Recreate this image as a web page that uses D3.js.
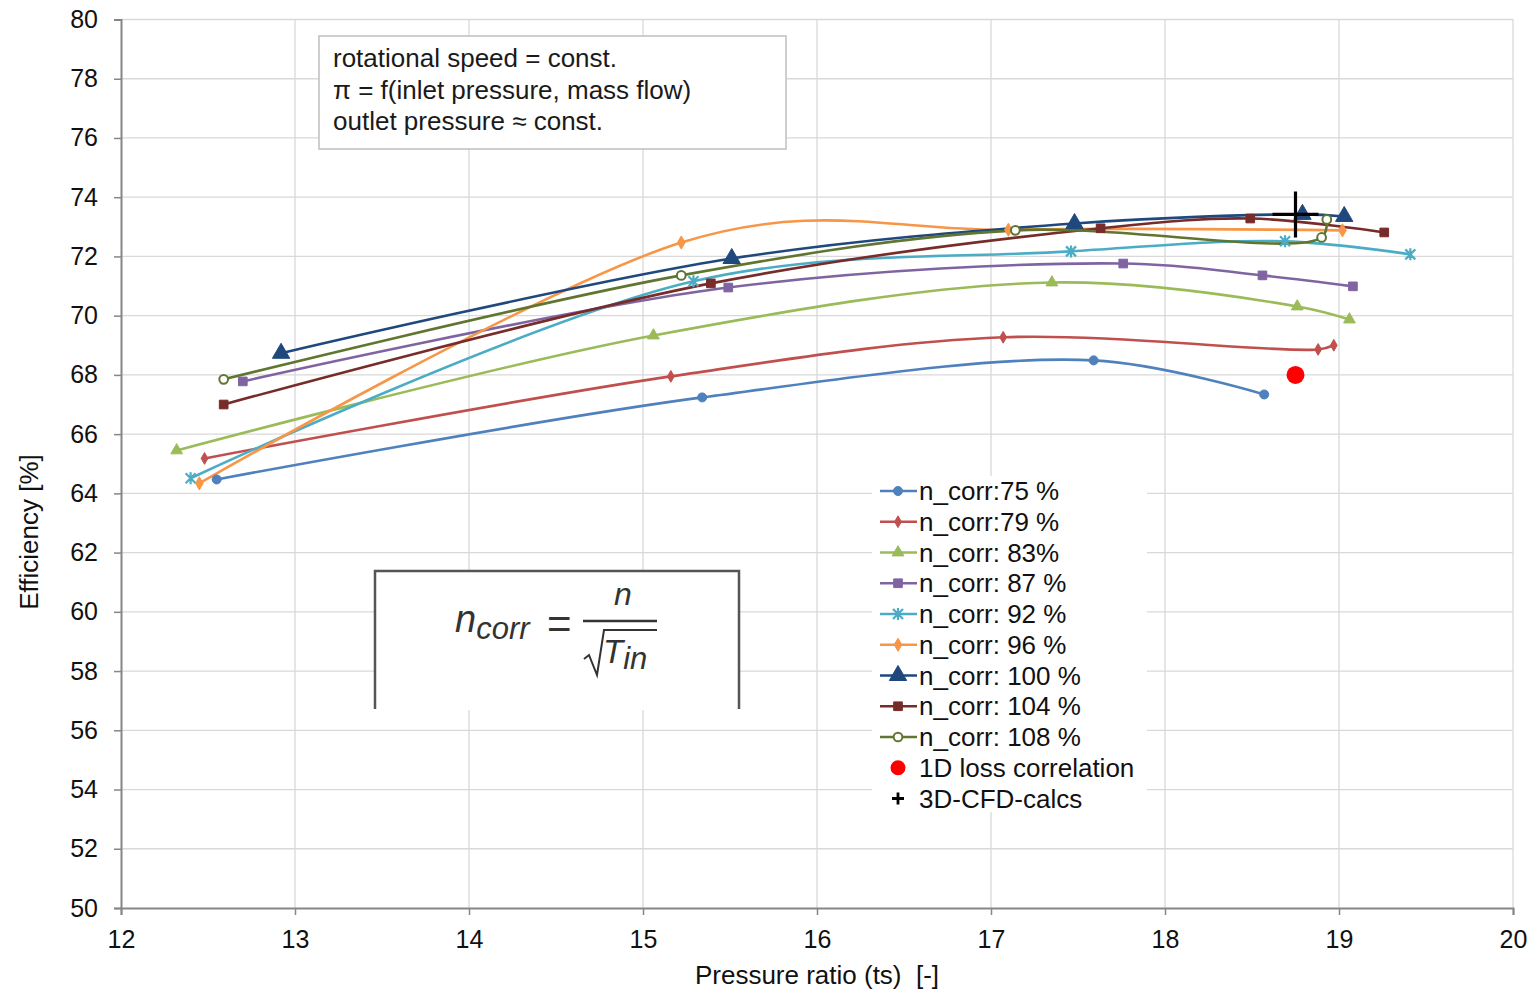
<!DOCTYPE html>
<html><head><meta charset="utf-8">
<script src="https://cdn.jsdelivr.net/npm/d3@7"></script>
<style>
body{margin:0;background:#fff;}
text{font-family:"Liberation Sans",Arial,sans-serif;}
</style></head>
<body><svg id="c" width="1531" height="993"></svg>
<script>
// ---------- data ----------
const seriesNames = ["n_corr:75 %","n_corr:79 %","n_corr: 83%","n_corr: 87 %","n_corr: 92 %","n_corr: 96 %","n_corr: 100 %","n_corr: 104 %","n_corr: 108 %"];
const seriesColors = ["#4F81BD","#C0504D","#9BBB59","#8064A2","#4BACC6","#F79646","#1F497D","#772C2A","#5F7530"];
const seriesMarkers = ["circle","diamond","triangle","square","star","diamondS","triangleL","square","circleOpen"];

const pr75  = [12.55, 15.34, 17.59, 18.57];
const eff75 = [64.47, 67.24, 68.49, 67.34];
const pr79  = [12.48, 15.16, 17.07, 18.88, 18.97];
const eff79 = [65.18, 67.95, 69.27, 68.86, 69.00];
const pr83  = [12.32, 15.06, 17.35, 18.76, 19.06];
const eff83 = [65.45, 69.33, 71.12, 70.31, 69.87];
const pr87  = [12.70, 15.49, 17.76, 18.56, 19.08];
const eff87 = [67.78, 70.95, 71.76, 71.36, 70.99];
const pr92  = [12.40, 15.29, 17.46, 18.69, 19.41];
const eff92 = [64.51, 71.16, 72.17, 72.51, 72.07];
const pr96  = [12.45, 15.22, 17.10, 19.02];
const eff96 = [64.34, 72.47, 72.90, 72.88];
const pr100  = [12.92, 15.51, 17.48, 18.79, 19.03];
const eff100 = [68.73, 71.93, 73.11, 73.42, 73.35];
const pr104  = [12.59, 15.39, 17.63, 18.49, 19.26];
const eff104 = [67.00, 71.09, 72.95, 73.28, 72.81];
const pr108  = [12.59, 15.22, 17.14, 18.90, 18.93];
const eff108 = [67.85, 71.36, 72.88, 72.64, 73.25];

const lossPR = [18.75], lossEff = [68.0];
const cfdPR = [18.75], cfdEff = [73.42];

const xTicks = [12,13,14,15,16,17,18,19,20];
const yTicks = [50,52,54,56,58,60,62,64,66,68,70,72,74,76,78,80];
const noteLines = ["rotational speed = const.","\u03C0 = f(inlet pressure, mass flow)","outlet pressure \u2248 const."];

const allPR = [pr75,pr79,pr83,pr87,pr92,pr96,pr100,pr104,pr108];
const allEff = [eff75,eff79,eff83,eff87,eff92,eff96,eff100,eff104,eff108];
// spline parameter per series (Excel-like smoothing)
const splineAlpha = [0.5,0.5,0.5,0.5,0.5,0,0.5,0.5,0.5];

// ---------- layout ----------
const svg = d3.select("#c");
const M = {l:121, t:19.5, r:18, b:85};
const W = 1531, H = 993;
const FS = 26;
const x = d3.scaleLinear().domain([12,20]).range([M.l, W-M.r]);
const y = d3.scaleLinear().domain([50,80]).range([H-M.b, M.t]);

// grid
svg.append("g").selectAll("line").data(xTicks.slice(1)).join("line")
  .attr("x1",d=>x(d)).attr("x2",d=>x(d)).attr("y1",y(50)).attr("y2",y(80))
  .attr("stroke","#d9d9d9").attr("stroke-width",1.3);
svg.append("g").selectAll("line").data(yTicks.slice(1)).join("line")
  .attr("x1",x(12)).attr("x2",x(20)).attr("y1",d=>y(d)).attr("y2",d=>y(d))
  .attr("stroke","#d9d9d9").attr("stroke-width",1.3);

// axes
const xAxis = svg.append("g").attr("transform",`translate(0,${y(50)})`)
  .call(d3.axisBottom(x).tickValues(xTicks).tickSize(7).tickPadding(15).tickFormat(d3.format("d")));
const yAxis = svg.append("g").attr("transform",`translate(${x(12)},0)`)
  .call(d3.axisLeft(y).tickValues(yTicks).tickSize(7).tickPadding(16).tickFormat(d3.format("d")));
[xAxis,yAxis].forEach(a=>{
  a.select(".domain").attr("stroke","#868686").attr("stroke-width",2);
  a.selectAll(".tick line").attr("stroke","#868686").attr("stroke-width",1.5);
  a.selectAll("text").attr("font-size",25).attr("fill","#111").attr("font-family","Liberation Sans, Arial, sans-serif");
});

// axis titles
svg.append("text").attr("x",817).attr("y",984).attr("text-anchor","middle")
  .attr("font-size",FS).attr("fill","#111").text("Pressure ratio (ts)\u00A0\u00A0[-]");
svg.append("text").attr("transform","translate(38,532) rotate(-90)").attr("text-anchor","middle")
  .attr("font-size",FS).attr("fill","#111").text("Efficiency [%]");

// note box
const nb = svg.append("g");
nb.append("rect").attr("x",319).attr("y",36).attr("width",467).attr("height",113)
  .attr("fill","#fff").attr("stroke","#bfbfbf").attr("stroke-width",1.5);
nb.selectAll("text").data(noteLines).join("text")
  .attr("x",333).attr("y",(d,i)=>67+i*31.5).attr("font-size",FS).attr("fill","#1a1a1a").text(d=>d);

// formula box
const fb = svg.append("g");
fb.append("rect").attr("x",374).attr("y",570).attr("width",365).attr("height",140).attr("fill","#fff");
fb.append("path").attr("d","M375,709V571H739V709").attr("fill","none").attr("stroke","#555").attr("stroke-width",2.5);
const serif = "Liberation Serif, Times New Roman, serif";
const f1 = fb.append("text").attr("x",455).attr("y",632).attr("font-family",serif).attr("font-style","italic").attr("fill","#333");
f1.append("tspan").attr("font-size",38).text("n");
f1.append("tspan").attr("font-size",31).attr("dy",7).text("corr");
fb.append("text").attr("x",547).attr("y",638).attr("font-family",serif).attr("font-size",42).attr("fill","#333").text("=");
fb.append("text").attr("x",623).attr("y",605).attr("text-anchor","middle").attr("font-family",serif).attr("font-style","italic").attr("font-size",32).attr("fill","#333").text("n");
fb.append("line").attr("x1",583).attr("x2",657).attr("y1",621).attr("y2",621).attr("stroke","#333").attr("stroke-width",2.5);
fb.append("path").attr("d","M584,659 L589,655 L597,675 L604,630 L657,630").attr("fill","none").attr("stroke","#333").attr("stroke-width",2);
const f2 = fb.append("text").attr("x",603).attr("y",663).attr("font-family",serif).attr("font-style","italic").attr("fill","#333");
f2.append("tspan").attr("font-size",33).text("T");
f2.append("tspan").attr("font-size",31).attr("dy",6).text("in");

// markers
function markerPath(kind){
  switch(kind){
    case "circle": return d3.symbol(d3.symbolCircle,64)();
    case "circleOpen": return d3.symbol(d3.symbolCircle,60)();
    case "diamond": return d3.symbol(d3.symbolDiamond,40)();
    case "diamondS": return d3.symbol(d3.symbolDiamond,50)();
    case "triangle": return d3.symbol(d3.symbolTriangle,60)();
    case "triangleL": return d3.symbol(d3.symbolTriangle,130)();
    case "square": return d3.symbol(d3.symbolSquare,75)();
    case "star": return "M-5,-5L5,5M-5,5L5,-5M0,-6L0,6";
  }
}
function drawMarker(g, kind, color, px, py){
  const p = g.append("path").attr("d",markerPath(kind)).attr("transform",`translate(${px},${py})`);
  if(kind==="circleOpen") p.attr("fill","#fff").attr("stroke",color).attr("stroke-width",2);
  else if(kind==="star") p.attr("fill","none").attr("stroke",color).attr("stroke-width",2.2);
  else p.attr("fill",color).attr("stroke",color).attr("stroke-width",1);
}

const plot = svg.append("g");
seriesNames.forEach((name,i)=>{
  const pts = allPR[i].map((v,j)=>[v, allEff[i][j]]);
  const line = d3.line().x(d=>x(d[0])).y(d=>y(d[1])).curve(d3.curveCatmullRom.alpha(splineAlpha[i]));
  plot.append("path").datum(pts).attr("d",line).attr("fill","none")
    .attr("stroke",seriesColors[i]).attr("stroke-width",2.6);
});
seriesNames.forEach((name,i)=>{
  const g = plot.append("g");
  allPR[i].forEach((v,j)=>drawMarker(g, seriesMarkers[i], seriesColors[i], x(v), y(allEff[i][j])));
});
// 1D loss correlation
plot.selectAll("circle.loss").data(lossPR).join("circle")
  .attr("cx",d=>x(d)).attr("cy",(d,i)=>y(lossEff[i])).attr("r",9).attr("fill","#ff0000");
// 3D CFD
cfdPR.forEach((v,i)=>{
  const cx = x(v), cy = y(cfdEff[i]);
  plot.append("path").attr("d",`M${cx-23},${cy}H${cx+23}M${cx},${cy-23}V${cy+23}`)
    .attr("stroke","#000").attr("stroke-width",3.2).attr("fill","none");
});

// legend
const lg = svg.append("g");
lg.append("rect").attr("x",872).attr("y",476).attr("width",275).attr("height",336).attr("fill","#fff");
const ly0 = 491, ldy = 30.75;
seriesNames.forEach((name,i)=>{
  const yy = ly0 + i*ldy;
  lg.append("line").attr("x1",880).attr("x2",917).attr("y1",yy).attr("y2",yy)
    .attr("stroke",seriesColors[i]).attr("stroke-width",2.6);
  drawMarker(lg, seriesMarkers[i], seriesColors[i], 898, yy);
  lg.append("text").attr("x",919).attr("y",yy+9).attr("font-size",FS).attr("fill","#111").text(name);
});
{
  const yy = ly0 + 9*ldy;
  lg.append("circle").attr("cx",898).attr("cy",yy).attr("r",7.5).attr("fill","#ff0000");
  lg.append("text").attr("x",919).attr("y",yy+9).attr("font-size",FS).attr("fill","#111").text("1D loss correlation");
  const yy2 = ly0 + 10*ldy;
  lg.append("path").attr("d",`M892,${yy2}H904M898,${yy2-6}V${yy2+6}`).attr("stroke","#000").attr("stroke-width",2.8);
  lg.append("text").attr("x",919).attr("y",yy2+9).attr("font-size",FS).attr("fill","#111").text("3D-CFD-calcs");
}
</script></body></html>
